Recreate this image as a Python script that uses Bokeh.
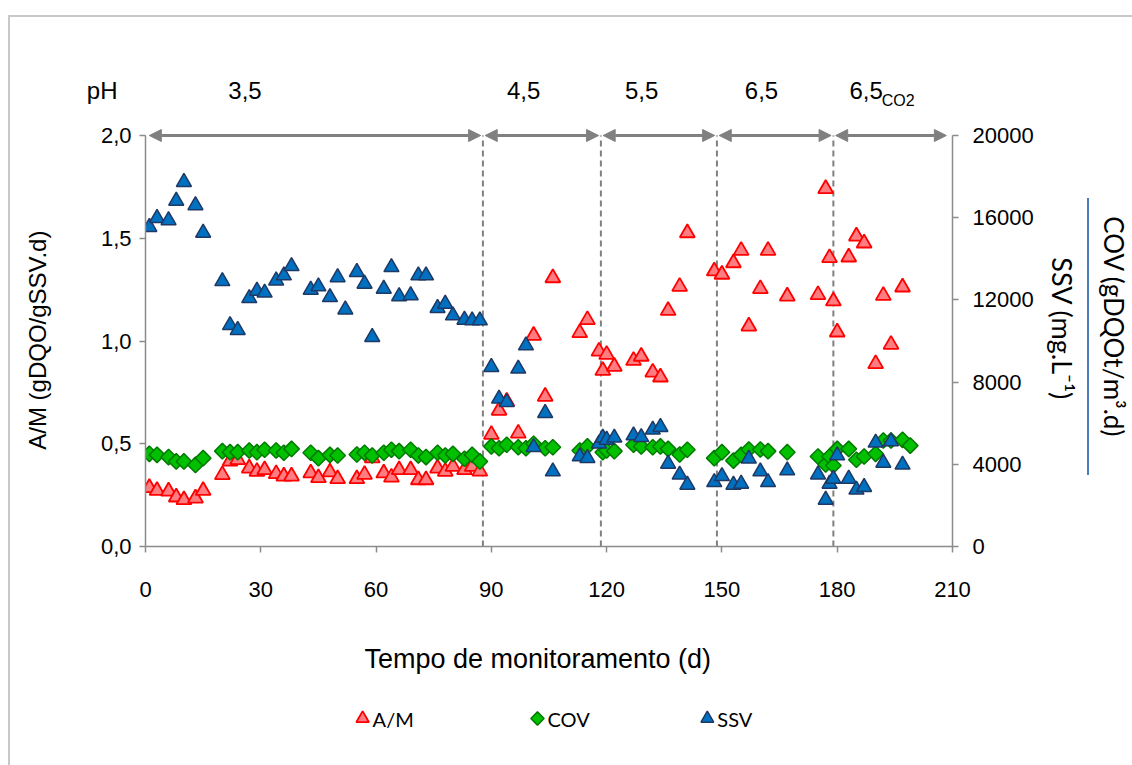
import math

from bokeh.embed import file_html
from bokeh.layouts import column
from bokeh.models import (Arrow, FixedTicker, Label, LinearAxis, NormalHead,
                          Range1d)
from bokeh.plotting import figure
from bokeh.resources import INLINE

# ---------------------------------------------------------------- data
# A/M ratio (gDQO/gSSV.d), left axis
am_days = [1, 3, 6, 8, 10, 13, 15, 20, 22, 24, 27, 29, 31, 34, 36, 38, 43, 45,
           48, 50, 55, 57, 59, 62, 64, 66, 69, 71, 73, 76, 78, 80, 83, 85, 87,
           90, 92, 94, 97, 101, 104, 106, 113, 115, 118, 119, 120, 122, 127,
           129, 132, 134, 136, 139, 141, 148, 150, 153, 155, 157, 160, 162,
           167, 175, 177, 178, 179, 180, 183, 185, 187, 190, 192, 194, 197]
am_vals = [0.286, 0.272, 0.269, 0.240, 0.227, 0.235, 0.272, 0.349, 0.415,
           0.422, 0.381, 0.365, 0.373, 0.354, 0.342, 0.342, 0.357, 0.334,
           0.362, 0.329, 0.329, 0.350, 0.430, 0.357, 0.337, 0.373, 0.373,
           0.324, 0.324, 0.381, 0.365, 0.389, 0.373, 0.389, 0.366, 0.545,
           0.662, 0.706, 0.551, 1.027, 0.730, 1.307, 1.040, 1.103, 0.950,
           0.856, 0.934, 0.876, 0.905, 0.925, 0.848, 0.824, 1.148, 1.265,
           1.526, 1.340, 1.324, 1.380, 1.440, 1.072, 1.254, 1.440, 1.218,
           1.225, 1.741, 1.405, 1.194, 1.043, 1.408, 1.510, 1.476, 0.889,
           1.221, 0.983, 1.262]

# COV (gDQOt/m3.d), right axis
cov_days = [1, 3, 6, 8, 10, 13, 15, 20, 22, 24, 27, 29, 31, 34, 36, 38, 43, 45,
            48, 50, 55, 57, 59, 62, 64, 66, 69, 71, 73, 76, 78, 80, 83, 85, 87,
            90, 92, 94, 97, 99, 101, 104, 106, 113, 115, 119, 120, 122, 127,
            129, 132, 134, 136, 139, 141, 148, 150, 153, 155, 157, 160, 162,
            167, 175, 177, 178, 179, 180, 183, 185, 187, 190, 192, 194, 197,
            199]
cov_vals = [4510, 4460, 4350, 4140, 4140, 3970, 4300, 4640, 4590, 4590, 4670,
            4590, 4710, 4670, 4560, 4750, 4560, 4300, 4460, 4430, 4480, 4560,
            4430, 4560, 4710, 4640, 4710, 4430, 4350, 4560, 4430, 4510, 4270,
            4460, 4140, 4870, 4780, 4950, 4830, 4780, 5000, 4780, 4830, 4670,
            4870, 4590, 4670, 4640, 4950, 4870, 4830, 4870, 4750, 4480, 4710,
            4300, 4590, 4180, 4460, 4720, 4720, 4640, 4590, 4380, 3990, 4380,
            3940, 4750, 4750, 4220, 4380, 4510, 5160, 5160, 5190, 4910]

# SSV (mg/L), right axis
ssv_days = [1, 3, 6, 8, 10, 13, 15, 20, 22, 24, 27, 29, 31, 34, 36, 38, 43, 45,
            48, 50, 52, 55, 57, 59, 62, 64, 66, 69, 71, 73, 76, 78, 80, 83, 85,
            87, 90, 92, 94, 97, 99, 101, 104, 106, 113, 115, 118, 119, 120,
            122, 127, 129, 132, 134, 136, 139, 141, 148, 150, 153, 155, 157,
            160, 162, 167, 175, 177, 178, 179, 180, 183, 185, 187, 190, 192,
            194, 197]
ssv_vals = [15540, 15980, 15870, 16820, 17730, 16600, 15260, 12910, 10770,
            10530, 12080, 12440, 12350, 12940, 13190, 13640, 12490, 12650,
            12130, 13100, 11530, 13350, 12780, 10190, 12540, 13590, 12170,
            12220, 13190, 13190, 11600, 11810, 11240, 11030, 11000, 11000,
            8730, 7190, 7020, 8650, 9780, 4830, 6490, 3650, 4380, 4300, 5000,
            5290, 5190, 5290, 5400, 5320, 5680, 5810, 4020, 3490, 3000, 3130,
            3420, 3000, 3050, 4270, 3650, 3130, 3700, 3500, 2270, 3050, 3290,
            4430, 3290, 2760, 2890, 5050, 4070, 5110, 3980]

# pH phases: changes of operating condition (d)
phase_changes = [87.8, 118.5, 148.7, 179.0]
phase_labels = ["3,5", "4,5", "5,5", "6,5", "6,5"]
phase_label_days = [25.9, 98.4, 129.1, 160.3, 183.2]

x_ticks = [0, 30, 60, 90, 120, 150, 180, 210]
am_ticks = [0.0, 0.5, 1.0, 1.5, 2.0]
am_tick_labels = ["0,0", "0,5", "1,0", "1,5", "2,0"]
right_ticks = [0, 4000, 8000, 12000, 16000, 20000]

series_names = ["A/M", "COV", "SSV"]

# ---------------------------------------------------------------- styling
W = 1132
H_MAIN, H_KEY = 690, 75
LEFT, RIGHT, BOTTOM = 145, 180, 144
FRAME_H = H_MAIN - BOTTOM
PX_PER_UNIT = 205.5                       # left-axis units -> pixels
Y_TOP = FRAME_H / PX_PER_UNIT             # plot area reaches the canvas top
R_TOP = Y_TOP * 10000                     # right axis: 2,0 <-> 20000
PH_Y = 2.219                              # height of the pH row

ARIAL = "'Liberation Sans', Arial, sans-serif"
NARROW = "'Liberation Sans Narrow', 'Liberation Sans', Arial, sans-serif"
CALIBRI = "Lato, 'Liberation Sans', sans-serif"
AXIS_GREY = "#8c8c8c"
GUIDE_GREY = "#808080"
FRAME_GREY = "#c8c8c8"

AM_STYLE = dict(marker="triangle", size=15, fill_color="#ff7c80",
                line_color="#ff0000", line_width=1.8)
COV_STYLE = dict(marker="square", angle=math.pi / 4, size=11,
                 fill_color="#00c000", line_color="#007a00", line_width=1.5)
SSV_STYLE = dict(marker="triangle", size=15, fill_color="#0070c0",
                 line_color="#1f3864", line_width=1.5)


def pad(n):
    """Non-breaking spaces used to slide an axis title along its axis."""
    return "\u00a0" * n


def grey_line(x, y, w, h, color=FRAME_GREY):
    return f"linear-gradient({color}, {color}) {x}px {y}px / {w}px {h}px no-repeat"


# chart border and the rule between the two right-hand titles
main_bg = ", ".join([grey_line(8, 15, 2, H_MAIN), grey_line(8, 15, W, 2),
                     grey_line(1087, 198, 2, 277, "#4a7ebb"), "#ffffff"])
key_bg = ", ".join([grey_line(8, 0, 2, H_KEY), "#ffffff"])

p = figure(width=W, height=H_MAIN, x_range=Range1d(0, 210),
           y_range=Range1d(0, Y_TOP),
           output_backend="svg", toolbar_location=None,
           min_border_left=LEFT, min_border_right=RIGHT,
           min_border_top=0, min_border_bottom=BOTTOM,
           outline_line_color=None,
           background_fill_alpha=0, border_fill_alpha=0,
           styles={"background": main_bg})
p.extra_y_ranges = {"right": Range1d(0, R_TOP)}
p.grid.visible = False


def style_axis(ax, standoff):
    ax.axis_line_color = AXIS_GREY
    ax.axis_line_width = 1.5
    ax.major_tick_line_color = AXIS_GREY
    ax.major_tick_line_width = 1.5
    ax.major_tick_out = 6
    ax.major_tick_in = 0
    ax.minor_tick_line_color = None
    ax.major_label_text_font = ARIAL
    ax.major_label_text_font_size = "22px"
    ax.major_label_text_color = "black"
    ax.major_label_standoff = standoff


def title_axis(ax, text, font, size, standoff):
    ax.axis_line_color = None
    ax.major_tick_line_color = None
    ax.minor_tick_line_color = None
    ax.major_tick_out = 0
    ax.major_tick_in = 0
    ax.axis_label = text
    ax.axis_label_text_font = font
    ax.axis_label_text_font_size = size
    ax.axis_label_text_font_style = "normal"
    ax.axis_label_text_color = "black"
    ax.axis_label_standoff = standoff


# bottom: day ticks, then the title
xa = p.xaxis[0]
xa.ticker = FixedTicker(ticks=x_ticks)
style_axis(xa, 29)

x_title = LinearAxis(ticker=FixedTicker(ticks=[]))
title_axis(x_title, "Tempo de monitoramento (d)" + pad(3), ARIAL, "27px", 44)
p.add_layout(x_title, "below")

# left: A/M ticks, then the pH row label and the title
ya = p.yaxis[0]
ya.ticker = FixedTicker(ticks=am_ticks)
ya.bounds = (0, 2)
ya.major_label_overrides = {t: s for t, s in zip(am_ticks, am_tick_labels)}
style_axis(ya, 8)

y_title = LinearAxis(ticker=FixedTicker(ticks=[PH_Y]))
title_axis(y_title, "A/M (gDQO/gSSV.d)" + pad(20), ARIAL, "24px", 33)
y_title.major_label_overrides = {PH_Y: "pH"}
y_title.major_label_text_font = NARROW
y_title.major_label_text_font_size = "24px"
y_title.major_label_text_color = "black"
y_title.major_label_standoff = -20
p.add_layout(y_title, "left")

# right: SSV / COV ticks, then the two titles
yr = LinearAxis(y_range_name="right", ticker=FixedTicker(ticks=right_ticks),
                bounds=(0, 20000))
style_axis(yr, 14)
p.add_layout(yr, "right")

ssv_title = LinearAxis(y_range_name="right", ticker=FixedTicker(ticks=[]))
title_axis(ssv_title, pad(16) + "SSV (mg.L\u207b\u00b9)", CALIBRI, "27px", 9)
p.add_layout(ssv_title, "right")

cov_title = LinearAxis(y_range_name="right", ticker=FixedTicker(ticks=[]))
title_axis(cov_title, pad(16) + "COV (gDQOt/m\u00b3.d)", CALIBRI, "26px", 16)
p.add_layout(cov_title, "right")

# ---------------------------------------------------------------- phases
p.segment(x0=phase_changes, y0=[0] * len(phase_changes),
          x1=phase_changes, y1=[2.0] * len(phase_changes),
          line_color=GUIDE_GREY, line_width=2, line_dash="6 4")

starts = [0] + phase_changes
ends = phase_changes + [209]
for i, (a, b) in enumerate(zip(starts, ends)):
    a0 = a + 1.0 if i == 0 else a + 0.6
    b0 = b - 0.6
    p.add_layout(Arrow(
        x_start=a0, y_start=2.0, x_end=b0, y_end=2.0,
        line_color=GUIDE_GREY, line_width=3,
        start=NormalHead(size=12, fill_color=GUIDE_GREY, line_color=GUIDE_GREY),
        end=NormalHead(size=12, fill_color=GUIDE_GREY, line_color=GUIDE_GREY)))

for txt, d in zip(phase_labels[:-1], phase_label_days[:-1]):
    p.add_layout(Label(x=d, y=PH_Y, text=txt, text_font=NARROW,
                       text_font_size="24px", text_align="center",
                       text_baseline="middle", text_color="black"))
p.add_layout(Label(x=phase_label_days[-1], y=PH_Y, text=phase_labels[-1],
                   text_font=NARROW, text_font_size="24px", text_align="left",
                   text_baseline="middle", text_color="black"))
p.add_layout(Label(x=191.6, y=2.17, text="CO2", text_font=NARROW,
                   text_font_size="16px", text_align="left",
                   text_baseline="middle", text_color="black"))

# ---------------------------------------------------------------- series
p.scatter(am_days, am_vals, **AM_STYLE)
p.scatter(cov_days, cov_vals, y_range_name="right", **COV_STYLE)
p.scatter(ssv_days, ssv_vals, y_range_name="right", **SSV_STYLE)

# ---------------------------------------------------------------- key strip
# a strip under the chart, on the same day scale, holding the series key
key = figure(width=W, height=H_KEY, x_range=p.x_range,
             y_range=Range1d(0, H_KEY), output_backend="svg",
             toolbar_location=None, x_axis_location=None, y_axis_location=None,
             min_border_left=LEFT, min_border_right=RIGHT,
             min_border_top=0, min_border_bottom=0, outline_line_color=None,
             background_fill_alpha=0, border_fill_alpha=0,
             styles={"background": key_bg})
key.grid.visible = False

KEY_Y = 47
key_x_days = [56.5, 102.0, 146.2]
for name, kx, style in zip(series_names, key_x_days,
                           [AM_STYLE, COV_STYLE, SSV_STYLE]):
    sw = dict(style)
    sw["size"] = style["size"] * 0.85
    key.scatter([kx], [KEY_Y], **sw)
    key.add_layout(Label(x=kx, y=KEY_Y, x_offset=10, text=name,
                         text_font=CALIBRI, text_font_size="20px",
                         text_align="left", text_baseline="middle",
                         text_color="black"))

page = column(p, key, spacing=0)
open("out.html", "w").write(file_html(page, INLINE))
